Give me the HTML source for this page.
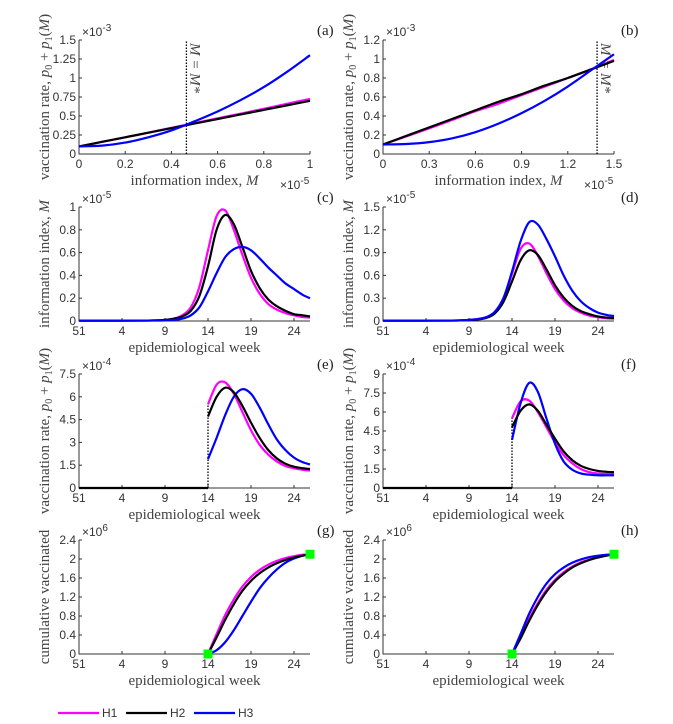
<!DOCTYPE html>
<html><head><meta charset="utf-8">
<style>
html,body{margin:0;padding:0;background:#fff;}
svg{display:block;}
.tk{font-family:"Liberation Sans",Arial,sans-serif;font-size:12px;fill:#333;}
.ti{font-family:"Liberation Serif",serif;font-size:15px;fill:#444;}
.pl{font-family:"Liberation Serif",serif;font-size:15px;fill:#222;}
</style></head>
<body>
<svg id="fig" width="673" height="724" viewBox="0 0 673 724" xmlns="http://www.w3.org/2000/svg"></svg>
<script>
// ---------- data ----------
const weekTickLabels = ["51","4","9","14","19","24"];
const weekTickIdx = [0,5,10,15,20,25];
const weekMax = 26.86;

// (a)
const aM = [0,0.1,0.2,0.3,0.4,0.5,0.6,0.7,0.8,0.9,1.0];
const aH1 = [0.1,0.16,0.22,0.28,0.345,0.405,0.47,0.53,0.595,0.66,0.725];
const aH2 = [0.1,0.16,0.22,0.28,0.34,0.40,0.46,0.52,0.58,0.64,0.70];
const aH3 = [0.1,0.11,0.15,0.22,0.31,0.43,0.56,0.71,0.88,1.08,1.30];
const aMstar = 0.465;
// (b)
const bM = [0,0.15,0.3,0.45,0.6,0.75,0.9,1.05,1.2,1.35,1.5];
const bH1 = [0.1,0.185,0.27,0.36,0.45,0.53,0.62,0.71,0.8,0.89,0.99];
const bH2 = [0.1,0.19,0.28,0.37,0.46,0.55,0.63,0.72,0.8,0.89,0.98];
const bH3 = [0.1,0.105,0.125,0.165,0.23,0.32,0.43,0.56,0.71,0.88,1.05];
const bMstar = 1.39;
// (c)
const cX1 = [0,8,10,11,12,13,14,15,16,17,18,19,20,21,22,23,24,25,26,26.86];
const cH1 = [0.003,0.004,0.01,0.02,0.05,0.12,0.3,0.62,0.92,0.97,0.8,0.58,0.38,0.24,0.15,0.1,0.07,0.05,0.035,0.03];
const cX2 = [0,8,10,11,12,13,14,15,16,17,18,19,20,21,22,23,24,25,26,26.86];
const cH2 = [0.003,0.004,0.01,0.02,0.04,0.09,0.22,0.48,0.8,0.93,0.85,0.65,0.44,0.29,0.19,0.13,0.09,0.06,0.05,0.04];
const cH3 = [0.003,0.004,0.005,0.01,0.02,0.05,0.12,0.26,0.42,0.56,0.63,0.65,0.62,0.55,0.47,0.40,0.33,0.28,0.23,0.20];
// (d)
const dX1 = [0,8,10,11,12,13,14,15,16,17,18,19,20,21,22,23,24,25,26,26.86];
const dH1 = [0.005,0.006,0.015,0.025,0.05,0.12,0.3,0.62,0.95,1.02,0.86,0.63,0.42,0.27,0.17,0.11,0.07,0.05,0.035,0.03];
const dX2 = [0,8,10,11,12,13,14,15,16,17,18,19,20,21,22,23,24,25,26,26.86];
const dH2 = [0.005,0.006,0.013,0.02,0.04,0.1,0.25,0.52,0.8,0.93,0.87,0.68,0.47,0.31,0.2,0.13,0.09,0.06,0.045,0.04];
const dX3 = [0,8,10,11,12,13,14,15,16,17,18,19,20,21,22,23,24,25,26,26.86];
const dH3 = [0.005,0.006,0.015,0.025,0.05,0.12,0.3,0.65,1.05,1.3,1.27,1.08,0.85,0.6,0.4,0.26,0.17,0.11,0.08,0.065];
// (e)
const eX1 = [15,16,17,18,19,20,21,22,23,24,25,26,26.86];
const eH1 = [5.5,6.8,6.95,6.2,5.0,3.8,2.85,2.2,1.75,1.45,1.3,1.2,1.15];
const eX = [15,16,17,18,19,20,21,22,23,24,25,26,26.86];
const eH2 = [4.7,6.0,6.6,6.3,5.4,4.3,3.3,2.5,1.95,1.6,1.4,1.3,1.25];
const eH3 = [1.9,3.3,4.8,6.0,6.5,6.2,5.3,4.2,3.2,2.5,2.0,1.7,1.55];
// (f)
const fX1 = [15,16,17,18,19,20,21,22,23,24,25,26,26.86];
const fH1 = [5.5,6.85,6.9,6.0,4.8,3.6,2.6,1.95,1.5,1.25,1.15,1.1,1.1];
const fX2 = [15,16,17,18,19,20,21,22,23,24,25,26,26.86];
const fH2 = [4.8,6.1,6.6,6.1,5.0,3.9,2.9,2.2,1.75,1.5,1.35,1.28,1.25];
const fX3 = [15,16,17,18,19,20,21,22,23,24,25,26,26.86];
const fH3 = [3.8,6.7,8.3,7.6,5.5,3.5,2.1,1.45,1.15,1.05,1.0,1.0,1.0];
// (g)
const gX = [15,16,17,18,19,20,21,22,23,24,25,26,26.86];
const gH1 = [0,0.42,0.82,1.15,1.42,1.62,1.77,1.88,1.96,2.02,2.06,2.09,2.1];
const gH2 = [0,0.35,0.72,1.05,1.33,1.54,1.70,1.82,1.91,1.98,2.03,2.07,2.1];
const gH3 = [0,0.08,0.25,0.5,0.8,1.1,1.38,1.6,1.78,1.92,2.01,2.07,2.1];
// (h)
const hH1 = [0,0.36,0.74,1.07,1.35,1.56,1.72,1.84,1.93,1.99,2.04,2.08,2.1];
const hH2 = [0,0.33,0.70,1.03,1.31,1.53,1.69,1.82,1.91,1.98,2.03,2.07,2.1];
const hH3 = [0,0.42,0.85,1.2,1.48,1.68,1.82,1.92,1.99,2.04,2.07,2.09,2.1];
const endpointX = [15,26.86];
const endpointY = [0,2.1];

// ---------- drawing ----------
const NS = "http://www.w3.org/2000/svg";
const fig = document.getElementById('fig');
const C1 = "#ff00ff", C2 = "#000000", C3 = "#0000ff";
function mk(tag, attrs, parent){
  const e = document.createElementNS(NS, tag);
  for (const k in attrs) e.setAttribute(k, attrs[k]);
  (parent||fig).appendChild(e);
  return e;
}
function smoothPath(pts){
  let d = "M" + pts[0][0].toFixed(2) + "," + pts[0][1].toFixed(2);
  for (let i=0;i<pts.length-1;i++){
    const p0 = pts[Math.max(0,i-1)], p1 = pts[i], p2 = pts[i+1], p3 = pts[Math.min(pts.length-1,i+2)];
    const c1x = p1[0]+(p2[0]-p0[0])/6, c1y = p1[1]+(p2[1]-p0[1])/6;
    const c2x = p2[0]-(p3[0]-p1[0])/6, c2y = p2[1]-(p3[1]-p1[1])/6;
    d += " C"+c1x.toFixed(2)+","+c1y.toFixed(2)+" "+c2x.toFixed(2)+","+c2y.toFixed(2)+" "+p2[0].toFixed(2)+","+p2[1].toFixed(2);
  }
  return d;
}
function panel(o){
  const g = mk('g', {});
  
  
  const X = v => o.x0 + (v - o.xmin)/(o.xmax - o.xmin)*(o.x1 - o.x0);
  const Y = v => o.y1 - (v - o.ymin)/(o.ymax - o.ymin)*(o.y1 - o.y0);
  const ax = mk('path', {d:`M${o.x0},${o.y0} L${o.x0},${o.y1} L${o.x1},${o.y1}`, fill:'none', stroke:'#333', 'stroke-width':1}, g);
  
  
  o.xt.forEach((v,i)=>{
    mk('line', {x1:X(v), x2:X(v), y1:o.y1, y2:o.y1-3, stroke:'#333'}, g);
    const t = mk('text', {x:X(v), y:o.y1+14, 'text-anchor':'middle', class:'tk'}, g);
    t.textContent = o.xl[i];
    
    
  });
  o.yt.forEach((v,i)=>{
    mk('line', {x1:o.x0, x2:o.x0+3, y1:Y(v), y2:Y(v), stroke:'#333'}, g);
    const t = mk('text', {x:o.x0-3, y:Y(v)+4, 'text-anchor':'end', class:'tk'}, g);
    t.textContent = o.yl[i];
    
    
  });
  const ye = mk('text', {x:o.x0+3, y:o.y0-4, class:'tk'}, g);
  ye.innerHTML = '×10<tspan dy="-5" font-size="10">' + o.yexp + '</tspan>';
  
  
  if (o.xexp){
    const xe = mk('text', {x:o.x1-30, y:o.y1+35, class:'tk'}, g);
    xe.innerHTML = '×10<tspan dy="-5" font-size="10">' + o.xexp + '</tspan>';
    
    
  }
  const xt = mk('text', {x:(o.x0+o.x1)/2, y:o.y1+31, 'text-anchor':'middle', class:'ti'}, g);
  xt.innerHTML = o.xtitle;
  
  
  const yt = mk('text', {x:0, y:0, 'text-anchor':'middle', class:'ti', transform:`translate(${o.x0-30},${(o.y0+o.y1)/2}) rotate(-90)`}, g);
  yt.innerHTML = o.ytitle;
  
  
  const pl = mk('text', {x:o.x1+7, y:o.y0-5, class:'pl'}, g);
  pl.textContent = '(' + o.id + ')';
  
  
  if (o.vline){
    const vl = mk('line', {x1:X(o.vline[0]), x2:X(o.vline[0]), y1:Y(o.vline[1]), y2:Y(o.vline[2]), stroke:'#000', 'stroke-width':1.3, 'stroke-dasharray':'1.5,1.5'}, g);
    
    
    if (o.vlabel){
      const vt = mk('text', {x:0, y:0, class:'ti', 'font-style':'italic', transform:`translate(${X(o.vline[0])+4},${o.y0+3}) rotate(90)`}, g);
      vt.textContent = 'M = M*';
      
      
    }
  }
  if (o.zeroTo !== undefined){
    const zl = mk('line', {x1:X(0), x2:X(o.zeroTo), y1:Y(0), y2:Y(0), stroke:'#000', 'stroke-width':2.2}, g);
    
    
  }
  o.series.forEach(s=>{
    const pts = s.x.map((xv,i)=>[X(xv), Y(s.y[i])]);
    const p = mk('path', {d:smoothPath(pts), fill:'none', stroke:s.c, 'stroke-width':2.2, 'stroke-linejoin':'round'}, g);
    
    
  });
  if (o.markers){
    endpointX.forEach((xv,i)=>{
      const r = mk('rect', {x:X(xv)-4.5, y:Y(endpointY[i])-4.5, width:9, height:9, fill:'#00ff00'}, g);
      
      
    });
  }
}
const L = [79,310], R = [383,614];
const tops = [40,207,374,540], H = 114;
const vr = 'vaccination rate, <tspan font-style="italic">p</tspan><tspan font-size="10" dy="3">0</tspan><tspan dy="-3"> + </tspan><tspan font-style="italic">p</tspan><tspan font-size="10" dy="3">1</tspan><tspan dy="-3">(</tspan><tspan font-style="italic">M</tspan>)';
const ii = 'information index, <tspan font-style="italic">M</tspan>';
const ew = 'epidemiological week';
function wk(side, row, id, ymax, yt, yl, yexp, ytitle, series, extra){
  const o = Object.assign({id, x0:side[0], x1:side[1], y0:tops[row], y1:tops[row]+H, xmin:0, xmax:weekMax, ymin:0, ymax,
    xt:weekTickIdx, xl:weekTickLabels, yt, yl, yexp, xtitle:ew, ytitle, series}, extra||{});
  panel(o);
}
panel({id:'a', x0:L[0], x1:L[1], y0:tops[0], y1:tops[0]+H, xmin:0, xmax:1, ymin:0, ymax:1.5,
  xt:[0,0.2,0.4,0.6,0.8,1], xl:["0","0.2","0.4","0.6","0.8","1"],
  yt:[0,0.25,0.5,0.75,1,1.25,1.5], yl:["0","0.25","0.5","0.75","1","1.25","1.5"],
  yexp:'-3', xexp:'-5', xtitle:ii, ytitle:vr, vline:[aMstar,0,1.5], vlabel:true,
  series:[{n:'h1',x:aM,y:aH1,c:C1},{n:'h2',x:aM,y:aH2,c:C2},{n:'h3',x:aM,y:aH3,c:C3}]});
panel({id:'b', x0:R[0], x1:R[1], y0:tops[0], y1:tops[0]+H, xmin:0, xmax:1.5, ymin:0, ymax:1.2,
  xt:[0,0.3,0.6,0.9,1.2,1.5], xl:["0","0.3","0.6","0.9","1.2","1.5"],
  yt:[0,0.2,0.4,0.6,0.8,1,1.2], yl:["0","0.2","0.4","0.6","0.8","1","1.2"],
  yexp:'-3', xexp:'-5', xtitle:ii, ytitle:vr, vline:[bMstar,0,1.2], vlabel:true,
  series:[{n:'h1',x:bM,y:bH1,c:C1},{n:'h2',x:bM,y:bH2,c:C2},{n:'h3',x:bM,y:bH3,c:C3}]});
wk(L,1,'c',1,[0,0.2,0.4,0.6,0.8,1],["0","0.2","0.4","0.6","0.8","1"],'-5',ii,
  [{n:'h1',x:cX1,y:cH1,c:C1},{n:'h2',x:cX2,y:cH2,c:C2},{n:'h3',x:cX2,y:cH3,c:C3}]);
wk(R,1,'d',1.5,[0,0.3,0.6,0.9,1.2,1.5],["0","0.3","0.6","0.9","1.2","1.5"],'-5',ii,
  [{n:'h1',x:dX1,y:dH1,c:C1},{n:'h2',x:dX2,y:dH2,c:C2},{n:'h3',x:dX3,y:dH3,c:C3}]);
wk(L,2,'e',7.5,[0,1.5,3,4.5,6,7.5],["0","1.5","3","4.5","6","7.5"],'-4',vr,
  [{n:'h1',x:eX1,y:eH1,c:C1},{n:'h3',x:eX,y:eH3,c:C3},{n:'h2',x:eX,y:eH2,c:C2}],
  {vline:[15,0,eH1[0]], zeroTo:15});
wk(R,2,'f',9,[0,1.5,3,4.5,6,7.5,9],["0","1.5","3","4.5","6","7.5","9"],'-4',vr,
  [{n:'h1',x:fX1,y:fH1,c:C1},{n:'h3',x:fX3,y:fH3,c:C3},{n:'h2',x:fX2,y:fH2,c:C2}],
  {vline:[15,0,fH1[0]], zeroTo:15});
wk(L,3,'g',2.4,[0,0.4,0.8,1.2,1.6,2,2.4],["0","0.4","0.8","1.2","1.6","2","2.4"],'6','cumulative vaccinated',
  [{n:'h3',x:gX,y:gH3,c:C3},{n:'h1',x:gX,y:gH1,c:C1},{n:'h2',x:gX,y:gH2,c:C2}],{markers:true});
wk(R,3,'h',2.4,[0,0.4,0.8,1.2,1.6,2,2.4],["0","0.4","0.8","1.2","1.6","2","2.4"],'6','cumulative vaccinated',
  [{n:'h1',x:gX,y:hH1,c:C1},{n:'h2',x:gX,y:hH2,c:C2},{n:'h3',x:gX,y:hH3,c:C3}],{markers:true});

// legend
const leg = mk('g', {});


[["H1",C1,58],["H2",C2,126],["H3",C3,194]].forEach(e=>{
  const ln = mk('line', {x1:e[2], x2:e[2]+41, y1:713, y2:713, stroke:e[1], 'stroke-width':2.2}, leg);
  
  
  const t = mk('text', {x:e[2]+44, y:717, class:'tk'}, leg);
  t.textContent = e[0];
  
  
});
</script>
</body></html>
